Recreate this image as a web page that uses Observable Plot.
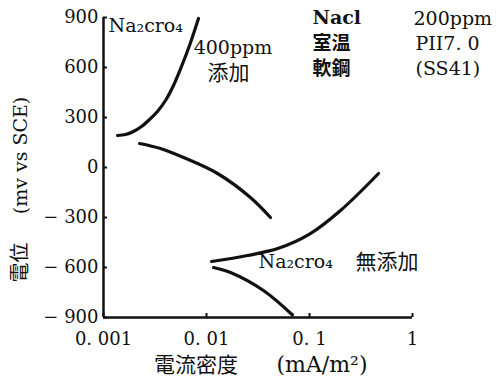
<!DOCTYPE html>
<html>
<head>
<meta charset="utf-8">
<script src="https://cdn.jsdelivr.net/npm/d3@7"></script>
<script src="https://cdn.jsdelivr.net/npm/@observablehq/plot@0.6"></script>
<style>
  html, body { margin: 0; padding: 0; background: #fff; }
  #chart svg { display: block; }
  #chart svg text { font-family: "DejaVu Serif", "Noto Sans CJK JP", serif !important; }
  #chart svg .cjk text, #chart svg g.cjk { font-family: "Noto Sans CJK JP", sans-serif !important; }
</style>
</head>
<body>
<div id="chart"></div>
<script>
// ---- data ----
const xTicks = [0.001, 0.01, 0.1, 1];
const xTickLabels = ["0. 001", "0. 01", "0. 1", "1"];
const yTicks = [-900, -600, -300, 0, 300, 600, 900];
const yTickLabels = ["− 900", "− 600", "− 300", "0", "300", "600", "900"];

// Na2CrO4 400ppm added – anodic branch
const addAnodicX = [0.00137, 0.00164, 0.00195, 0.00234, 0.0028, 0.00334, 0.0040, 0.00478, 0.00572, 0.00684, 0.00836];
const addAnodicY = [192, 198, 216, 246, 288, 336, 402, 492, 606, 732, 894];
// Na2CrO4 400ppm added – cathodic branch
const addCathodicX = [0.00224, 0.00357, 0.00598, 0.0128, 0.0267, 0.0418];
const addCathodicY = [144, 114, 60, -36, -180, -300];
// no Na2CrO4 – anodic branch
const noAnodicX = [0.0112, 0.025, 0.05, 0.1, 0.2, 0.468];
const noAnodicY = [-564, -528, -485, -400, -258, -36];
// no Na2CrO4 – cathodic branch
const noCathodicX = [0.0117, 0.0171, 0.0357, 0.0684];
const noCathodicY = [-600, -630, -738, -885];

const xTitleCJK = "電流密度";
const xTitleUnit = "(mA/m²)";
const yTitleCJK = "電位";
const yTitleUnit = "(mv vs SCE)";

// regular annotations
const noteText = ["Na₂cro₄", "400ppm", "Na₂cro₄", "200ppm", "PII7. 0", "(SS41)"];
const noteX = [0.00112, 0.0075, 0.032, 1.023, 1.07, 1.07];
const noteY = [852, 717, -564, 894, 744, 594];
// CJK annotations
const cjkText = ["添加", "無添加"];
const cjkX = [0.0102, 0.28];
const cjkY = [564, -570];
// bold annotations
const boldText = ["Nacl", "室温", "軟鋼"];
const boldX = [0.107, 0.107, 0.107];
const boldY = [897, 744, 594];

// ---- build ----
const curves = [
  {x: addAnodicX, y: addAnodicY},
  {x: addCathodicX, y: addCathodicY},
  {x: noAnodicX, y: noAnodicY},
  {x: noCathodicX, y: noCathodicY}
];
const lineData = curves.flatMap((c, i) => c.x.map((x, j) => ({x, y: c.y[j], id: i})));
const pack = (T, X, Y) => T.map((t, i) => ({t, x: X[i], y: Y[i]}));
const notes = pack(noteText, noteX, noteY);
const cjkNotes = pack(cjkText, cjkX, cjkY);
const boldNotes = pack(boldText, boldX, boldY);

const chart = Plot.plot({
  width: 496,
  height: 381,
  marginLeft: 103,
  marginRight: 84,
  marginTop: 17,
  marginBottom: 64,
  style: {background: "#fff", color: "#111"},
  x: {type: "log", domain: [0.001, 1], axis: null},
  y: {domain: [-900, 900], axis: null},
  marks: [
    Plot.axisX(xTicks, {
      tickSize: -4, tickPadding: 19, fontSize: 18, strokeWidth: 2,
      tickFormat: (d) => xTickLabels[xTicks.indexOf(d)], label: null
    }),
    Plot.axisY(yTicks, {
      tickSize: -4, tickPadding: 9, fontSize: 18, strokeWidth: 2,
      tickFormat: (d) => yTickLabels[yTicks.indexOf(d)], label: null
    }),
    Plot.ruleX([0.001], {strokeWidth: 2.5}),
    Plot.ruleY([-900], {strokeWidth: 2.5}),
    Plot.line(lineData, {x: "x", y: "y", z: "id", curve: "catmull-rom", strokeWidth: 3.2, stroke: "#111", strokeLinecap: "round"}),
    Plot.text(notes, {x: "x", y: "y", text: "t", textAnchor: "start", fontSize: 19, fill: "#111"}),
    Plot.text(boldNotes, {x: "x", y: "y", text: "t", textAnchor: "start", fontSize: 19, fontWeight: "bold", fill: "#111"}),
    Plot.text(cjkNotes, {x: "x", y: "y", text: "t", textAnchor: "start", fontSize: 21, fill: "#111", className: "cjk"}),
    Plot.text([xTitleCJK], {frameAnchor: "bottom", dy: 54, dx: -62, fontSize: 21, fill: "#111", className: "cjk"}),
    Plot.text([xTitleUnit], {frameAnchor: "bottom", dy: 54, dx: 64, fontSize: 22, fill: "#111"}),
    Plot.text([yTitleCJK], {frameAnchor: "left", textAnchor: "middle", dx: -83, dy: 95, rotate: -90, fontSize: 20, fill: "#111", className: "cjk"}),
    Plot.text([yTitleUnit], {frameAnchor: "left", textAnchor: "middle", dx: -83, dy: -12, rotate: -90, fontSize: 19, fill: "#111"})
  ]
});
document.getElementById("chart").appendChild(chart);
</script>
</body>
</html>
